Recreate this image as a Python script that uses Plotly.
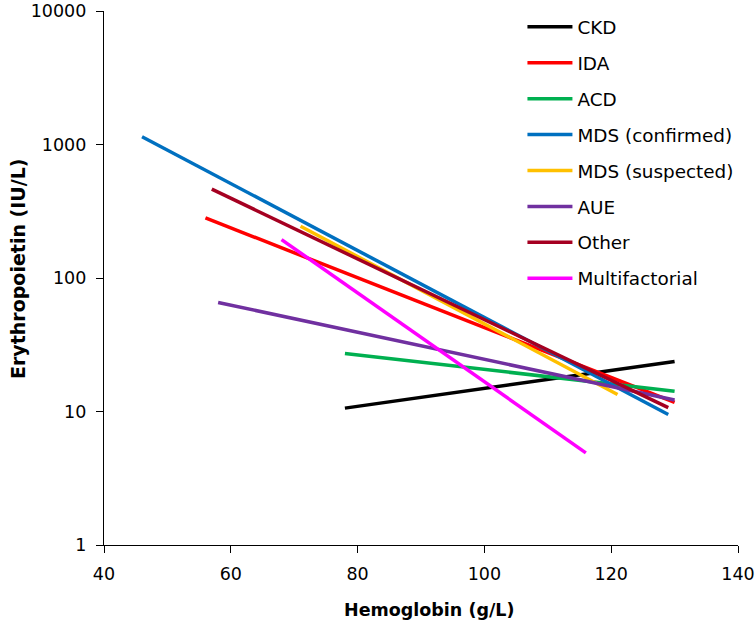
import plotly.graph_objects as go

series_names = ["CKD", "IDA", "ACD", "MDS (confirmed)", "MDS (suspected)", "AUE", "Other", "Multifactorial"]
hb_start = [78, 56, 78, 46, 71, 58, 57, 68]
hb_end = [130, 130, 130, 129, 121, 130, 129, 116]
epo_start = [10.6, 282, 27.2, 1143, 244, 65.6, 463, 194]
epo_end = [23.7, 11.7, 14.2, 9.5, 13.4, 12.2, 10.7, 4.9]
colors = ["#000000", "#FF0000", "#00B050", "#0070C0", "#FFC000", "#7030A0", "#A50021", "#FF00FF"]

y_tick_vals = [1, 10, 100, 1000, 10000]
y_tick_text = ["1", "10", "100", "1000", "10000"]
x_tick_vals = [40, 60, 80, 100, 120, 140]

fig = go.Figure()
for i, name in enumerate(series_names):
    fig.add_trace(go.Scatter(
        x=[hb_start[i], hb_end[i]],
        y=[epo_start[i], epo_end[i]],
        mode="lines",
        name=name,
        legendgroup=name,
        line=dict(color=colors[i], width=3.5),
    ))

W, H = 755, 623
L, R, T, B = 104, 17, 11, 78
pw, ph = W - L - R, H - T - B

font_family = "'DejaVu Sans', sans-serif"
fig.update_layout(
    width=W, height=H,
    margin=dict(l=L, r=R, t=T, b=B, autoexpand=False),
    plot_bgcolor="white", paper_bgcolor="white",
    font=dict(family=font_family, size=17, color="black"),
    showlegend=True,
    legend=dict(
        x=0.660, y=1.005, xanchor="left", yanchor="top",
        font=dict(family=font_family, size=18.4, color="black"),
        tracegroupgap=9,
        itemwidth=45,
        bgcolor="rgba(0,0,0,0)",
    ),
    xaxis=dict(
        range=[40, 140], tickvals=x_tick_vals,
        showline=True, linecolor="black", linewidth=1.3,
        ticks="outside", ticklen=7, tickcolor="black",
        showgrid=False, zeroline=False, automargin=False,
        tickfont=dict(size=17.5), ticklabelstandoff=6,
        ticklabeloverflow="allow",
    ),
    yaxis=dict(
        type="log", range=[0, 4], tickvals=y_tick_vals, ticktext=y_tick_text,
        showline=True, linecolor="black", linewidth=1.3,
        ticks="outside", ticklen=7, tickcolor="black",
        showgrid=False, zeroline=False, automargin=False,
        tickfont=dict(size=17.5), ticklabelstandoff=6,
        ticklabeloverflow="allow",
    ),
    annotations=[
        dict(text="<b>Hemoglobin (g/L)</b>", x=(429 - L) / pw, y=(H - B - 610) / ph,
             xref="paper", yref="paper", showarrow=False, font=dict(size=17.5),
             xanchor="center", yanchor="middle"),
        dict(text="<b>Erythropoietin (IU/L)</b>", x=(18 - L) / pw, y=(H - B - 269) / ph,
             xref="paper", yref="paper", showarrow=False, font=dict(size=19),
             textangle=-90, xanchor="center", yanchor="middle"),
    ],
)

fig.write_html("out.html", config={"displayModeBar": False},
               post_script="document.body.style.margin='0';")
